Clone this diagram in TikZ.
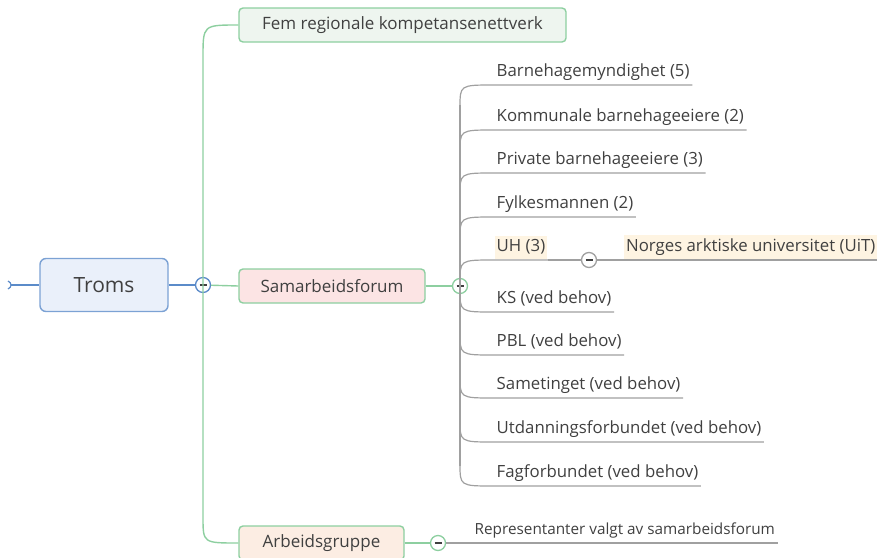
\documentclass[tikz,border=0pt]{standalone}
\usepackage{fontspec}
\setmainfont{Open Sans}
\usepackage{xcolor}
\usetikzlibrary{positioning}
\usetikzlibrary{calc}

\definecolor{mapgreen}{HTML}{8DCFA0}
\definecolor{mapblue}{HTML}{5B8BC9}
\definecolor{rootfill}{HTML}{EAF0FA}
\definecolor{femfill}{HTML}{EEF5EF}
\definecolor{samfill}{HTML}{FCE4E4}
\definecolor{arbfill}{HTML}{FCEDE3}
\definecolor{twiggray}{HTML}{A0A0A0}
\definecolor{cream}{HTML}{FEF4E2}
\definecolor{txt}{HTML}{404040}

\begin{document}
\begin{tikzpicture}[x=1pt,y=-1pt,line width=1.4pt,
  topic/.style={draw=mapgreen, rounded corners=4pt, minimum height=34pt,
    inner xsep=0pt, text=txt, font=\fontsize{17}{20}\selectfont},
  fold/.style={circle, draw=#1, fill=white, minimum size=15pt, inner sep=0pt,
    line width=1.3pt, path picture={
      \draw[txt, line width=1.8pt]
        ([xshift=-3.5pt]path picture bounding box.center) --
        ([xshift=3.5pt]path picture bounding box.center);}},
  item/.style={anchor=south west, inner xsep=2pt, inner ysep=4pt,
    text depth=3.5pt, text=txt, font=\fontsize{16.8}{20}\selectfont},
  twig/.style={draw=twiggray, line width=1.2pt}]

  \useasboundingbox (0,0) rectangle (877,557);

  % main topic and its fold
  \node[draw=mapblue!80, fill=rootfill, rounded corners=6pt, minimum width=128pt,
    minimum height=53pt, text=txt, font=\fontsize{21}{24}\selectfont]
    (troms) at (104,285) {Troms};
  \coordinate (stub) at (11,285);
  \node[fold=mapblue] (c1) at (203,285) {};

  % subtopics
  \node[topic, fill=femfill, minimum width=327pt] (fem) at (402.5,25)
    {Fem regionale kompetansenettverk};
  \node[topic, fill=samfill, minimum width=186pt] (sam) at (332,286)
    {Samarbeidsforum};
  \node[topic, fill=arbfill, minimum width=165pt] (arb) at (321.5,543)
    {Arbeidsgruppe};

  \node[fold=mapgreen] (c2) at (460,286) {};
  \node[fold=mapgreen] (c4) at (438,543) {};

  % members of the forum
  \node[item] (b1)  at (494,85)  {Barnehagemyndighet (5)};
  \node[item] (b2)  at (494,130) {Kommunale barnehageeiere (2)};
  \node[item] (b3)  at (494,173) {Private barnehageeiere (3)};
  \node[item] (b4)  at (494,217) {Fylkesmannen (2)};
  \node[item, fill=cream] (b5) at (494,260) {UH (3)};
  \node[item] (b6)  at (494,312) {KS (ved behov)};
  \node[item] (b7)  at (494,355) {PBL (ved behov)};
  \node[item] (b8)  at (494,398) {Sametinget (ved behov)};
  \node[item] (b9)  at (494,442) {Utdanningsforbundet (ved behov)};
  \node[item] (b10) at (494,486) {Fagforbundet (ved behov)};

  \node[fold=twiggray] (c3) at (589,260) {};
  \node[item, fill=cream, minimum width=254pt] (uit) at (623,260)
    {Norges arktiske universitet (UiT)};

  \node[item, font=\fontsize{15.3}{18}\selectfont] (rep) at (472,543)
    {Representanter valgt av samarbeidsforum};

  % blue connectors
  \draw[mapblue] (stub) -- (troms.west);
  \draw[mapblue, line width=1.2pt] ($(stub)+(-3,-4)$) .. controls ($(stub)+(1,-2)$)
    and ($(stub)+(1,2)$) .. ($(stub)+(-3,4)$);
  \draw[mapblue] (troms.east) -- (c1);

  % green trunk
  \draw[mapgreen] (fem.west) .. controls (c1 |- fem.west) .. ($(c1 |- fem.west)+(0,32)$)
    -- ($(c1 |- arb.west)+(0,-26)$) .. controls (c1 |- arb.west) .. (arb.west);
  \draw[mapgreen] (c1) -- (sam.west);
  \draw[mapgreen] (sam.east) -- (c2);
  \draw[mapgreen] (arb.east) -- (c4);

  % gray trunk and twigs
  \draw[twig] ($(c2 |- b1.south west)+(0,20)$) -- ($(c2 |- b10.south west)+(0,-20)$);
  \foreach \b in {b1,b2,b3,b4,b5}
    \draw[twig] ($(c2 |- \b.south west)+(0,22)$) .. controls (c2 |- \b.south west)
      .. (\b.south west) -- (\b.south east);
  \foreach \b in {b6,b7,b8,b9,b10}
    \draw[twig] ($(c2 |- \b.south west)+(0,-22)$) .. controls (c2 |- \b.south west)
      .. (\b.south west) -- (\b.south east);
  \draw[twig] (b5.south east) -- (c3) -- (uit.south west) -- (uit.south east);
  \draw[twig] (c4) -- (rep.south west) -- (rep.south east);

\end{tikzpicture}
\end{document}
